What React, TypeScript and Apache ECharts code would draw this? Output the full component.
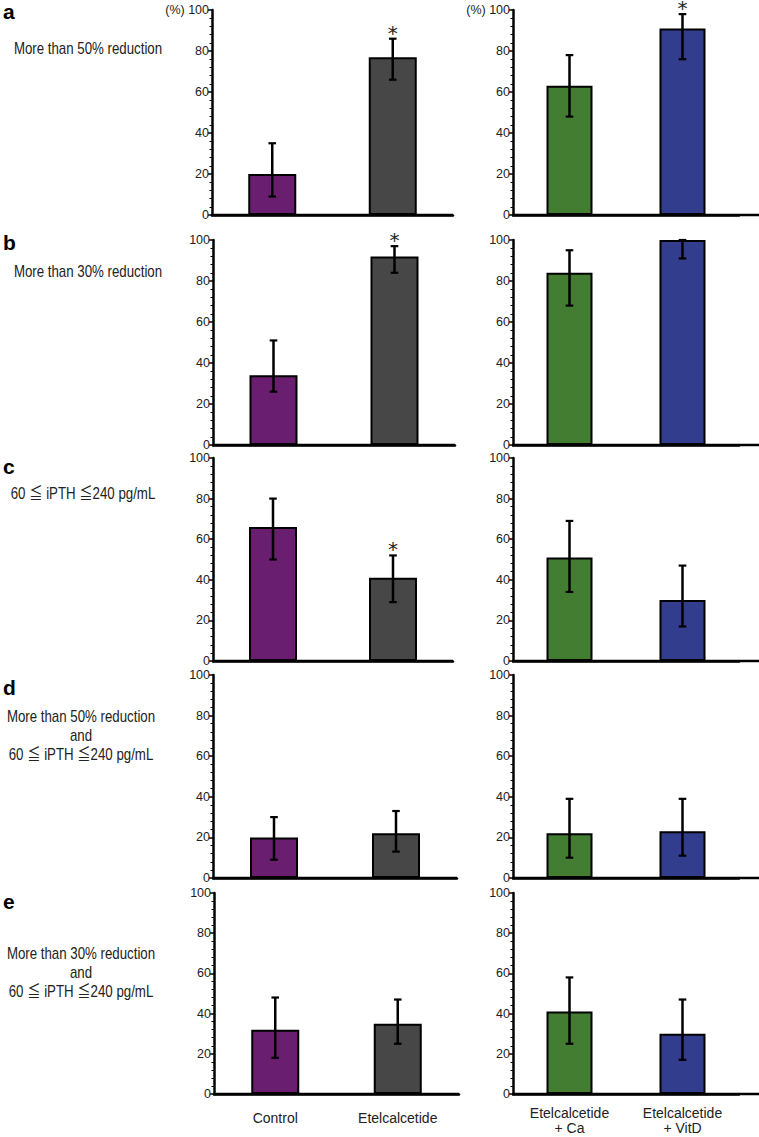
import React, { useEffect, useRef } from 'react';
import * as echarts from 'echarts';

// ---------- data ----------
const leftGroups = ['Control', 'Etelcalcetide'];
const rightGroups = ['Etelcalcetide\n+ Ca', 'Etelcalcetide\n+ VitD'];
const groupColors = ['#6a1e70', '#474747', '#427d32', '#323d8e'];
const yTickValues = [0, 20, 40, 60, 80, 100];

const panelLetters = ['a', 'b', 'c', 'd', 'e'];
const rowLabels = [
  'More than 50% reduction',
  'More than 30% reduction',
  '60 ≦ iPTH ≦240 pg/mL',
  'More than 50% reduction\nand\n60 ≦ iPTH ≦240 pg/mL',
  'More than 30% reduction\nand\n60 ≦ iPTH ≦240 pg/mL',
];

// order: Control, Etelcalcetide, Etelcalcetide + Ca, Etelcalcetide + VitD
const meanA = [20, 77, 63, 91];
const lowA = [9, 66, 48, 76];
const highA = [35, 86, 78, 98];
const sigA = [0, 1, 0, 1];

const meanB = [34, 92, 84, 100];
const lowB = [26, 84, 68, 91];
const highB = [51, 97, 95, 100];
const sigB = [0, 1, 0, 0];

const meanC = [66, 41, 51, 30];
const lowC = [50, 29, 34, 17];
const highC = [80, 52, 69, 47];
const sigC = [0, 1, 0, 0];

const meanD = [20, 22, 22, 23];
const lowD = [9, 13, 10, 11];
const highD = [30, 33, 39, 39];
const sigD = [0, 0, 0, 0];

const meanE = [32, 35, 41, 30];
const lowE = [18, 25, 25, 17];
const highE = [48, 47, 58, 47];
const sigE = [0, 0, 0, 0];

const rows = [
  { mean: meanA, low: lowA, high: highA, sig: sigA },
  { mean: meanB, low: lowB, high: highB, sig: sigB },
  { mean: meanC, low: lowC, high: highC, sig: sigC },
  { mean: meanD, low: lowD, high: highD, sig: sigD },
  { mean: meanE, low: lowE, high: highE, sig: sigE },
];

// ---------- layout ----------
const W = 759;
const H = 1137;
const rowTop = [10, 240, 458, 675, 893];
const rowBottom = [215, 445, 661, 878, 1094];
const leftGridX = [212, 213, 213, 213, 214];
const leftGridR = [453, 455, 453, 457, 459];
const rightGridX = 513;
const rightGridR = 739;
const letterY = [11, 242, 466, 687, 901];
const labelPos = [
  [88, 49],
  [88, 272],
  [83, 494],
  [81, 736],
  [81, 973],
];

const SANS = "'Liberation Sans', 'Noto Sans CJK JP', sans-serif";

export default function App() {
  const ref = useRef<HTMLDivElement>(null);

  useEffect(() => {
    if (!ref.current) return;
    const chart = echarts.init(ref.current, undefined, { renderer: 'svg' });

    const grids: any[] = [];
    const xAxes: any[] = [];
    const yAxes: any[] = [];
    const series: any[] = [];
    const graphics: any[] = [];

    rows.forEach((row, r) => {
      const isBottom = r === rows.length - 1;
      const isTop = r === 0;
      const top = rowTop[r];
      const height = rowBottom[r] - rowTop[r];
      [0, 1].forEach((side) => {
        const idx = r * 2 + side;
        const gl = side === 0 ? leftGridX[r] : rightGridX;
        const gr = side === 0 ? leftGridR[r] : rightGridR;
        grids.push({ left: gl, top, width: gr - gl, height, containLabel: false });
        xAxes.push({
          type: 'category',
          gridIndex: idx,
          data: side === 0 ? leftGroups : rightGroups,
          axisLine: { show: true, onZero: false, lineStyle: { color: '#000', width: 2.5 } },
          axisTick: { show: false },
          axisLabel: {
            show: isBottom,
            interval: 0,
            fontFamily: SANS,
            fontSize: 14,
            lineHeight: 15,
            color: '#222',
            margin: side === 0 ? 16 : 11,
            align: 'center',
          },
        });
        yAxes.push({
          type: 'value',
          gridIndex: idx,
          min: 0,
          max: 100,
          interval: 20,
          axisLine: { show: true, lineStyle: { color: '#000', width: 2.5 } },
          axisTick: { show: true, length: 4, lineStyle: { color: '#000', width: 1.5 } },
          minorTick: { show: true, splitNumber: 5, length: 2.5, lineStyle: { color: '#000', width: 1 } },
          splitLine: { show: false },
          axisLabel: {
            fontFamily: SANS,
            fontSize: 12.5,
            lineHeight: 11,
            color: '#222',
            margin: 3,
            formatter: (v: number) =>
              isTop && v === yTickValues[yTickValues.length - 1] ? '(%) ' + v : String(v),
          },
        });
        const offs = side === 0 ? 0 : 2;
        const mean = row.mean.slice(offs, offs + 2);
        const low = row.low.slice(offs, offs + 2);
        const high = row.high.slice(offs, offs + 2);
        const sig = row.sig.slice(offs, offs + 2);
        series.push({
          type: 'bar',
          xAxisIndex: idx,
          yAxisIndex: idx,
          barWidth: side === 0 ? 48 : 46,
          itemStyle: { borderColor: '#000', borderWidth: 2 },
          data: mean.map((v, j) => ({ value: v, itemStyle: { color: groupColors[offs + j] } })),
          z: 2,
        });
        series.push({
          type: 'custom',
          xAxisIndex: idx,
          yAxisIndex: idx,
          z: 5,
          encode: { x: 0, y: [1, 2] },
          data: mean.map((_, j) => [j, low[j], high[j], sig[j]]),
          renderItem: (params: any, api: any) => {
            const c = api.value(0);
            const pLow = api.coord([c, api.value(1)]);
            const pHigh = api.coord([c, api.value(2)]);
            const x = pLow[0];
            const cap = 3.8;
            const children: any[] = [
              { type: 'line', shape: { x1: x, y1: pLow[1], x2: x, y2: pHigh[1] }, style: { stroke: '#000', lineWidth: 2.5 } },
              { type: 'line', shape: { x1: x - cap, y1: pLow[1], x2: x + cap, y2: pLow[1] }, style: { stroke: '#000', lineWidth: 2.2 } },
              { type: 'line', shape: { x1: x - cap, y1: pHigh[1], x2: x + cap, y2: pHigh[1] }, style: { stroke: '#000', lineWidth: 2.2 } },
            ];
            if (api.value(3) === 1) {
              children.push({
                type: 'text',
                x,
                y: pHigh[1] - 6,
                style: { text: '*', font: "20px 'DejaVu Sans', sans-serif", align: 'center', verticalAlign: 'middle', fill: '#222' },
              });
            }
            return { type: 'group', children };
          },
        });
      });
      // x-axis base lines (left panel, and right panel running to the page edge)
      graphics.push({
        type: 'line',
        z: 100,
        shape: { x1: leftGridX[r] - 1, y1: rowBottom[r], x2: leftGridR[r], y2: rowBottom[r] },
        style: { stroke: '#000', lineWidth: 2.5 },
      });
      graphics.push({
        type: 'line',
        z: 100,
        shape: { x1: rightGridX - 1, y1: rowBottom[r], x2: W, y2: rowBottom[r] },
        style: { stroke: '#000', lineWidth: 2.5 },
      });
      graphics.push({
        type: 'text',
        x: 3,
        y: letterY[r],
        style: { text: panelLetters[r], font: "bold 21px 'Liberation Sans', Arial, sans-serif", fill: '#000', align: 'left', verticalAlign: 'middle' },
      });
      graphics.push({
        type: 'text',
        x: labelPos[r][0],
        y: labelPos[r][1],
        scaleX: 0.83,
        style: {
          text: rowLabels[r],
          font: `16px ${SANS}`,
          lineHeight: 19,
          fill: '#222',
          align: 'center',
          verticalAlign: 'middle',
        },
      });
    });

    chart.setOption({
      animation: false,
      backgroundColor: '#fff',
      grid: grids,
      xAxis: xAxes,
      yAxis: yAxes,
      series,
      graphic: graphics,
    });

    return () => chart.dispose();
  }, []);

  return <div ref={ref} style={{ position: 'absolute', left: 0, top: 0, width: W, height: H }} />;
}
